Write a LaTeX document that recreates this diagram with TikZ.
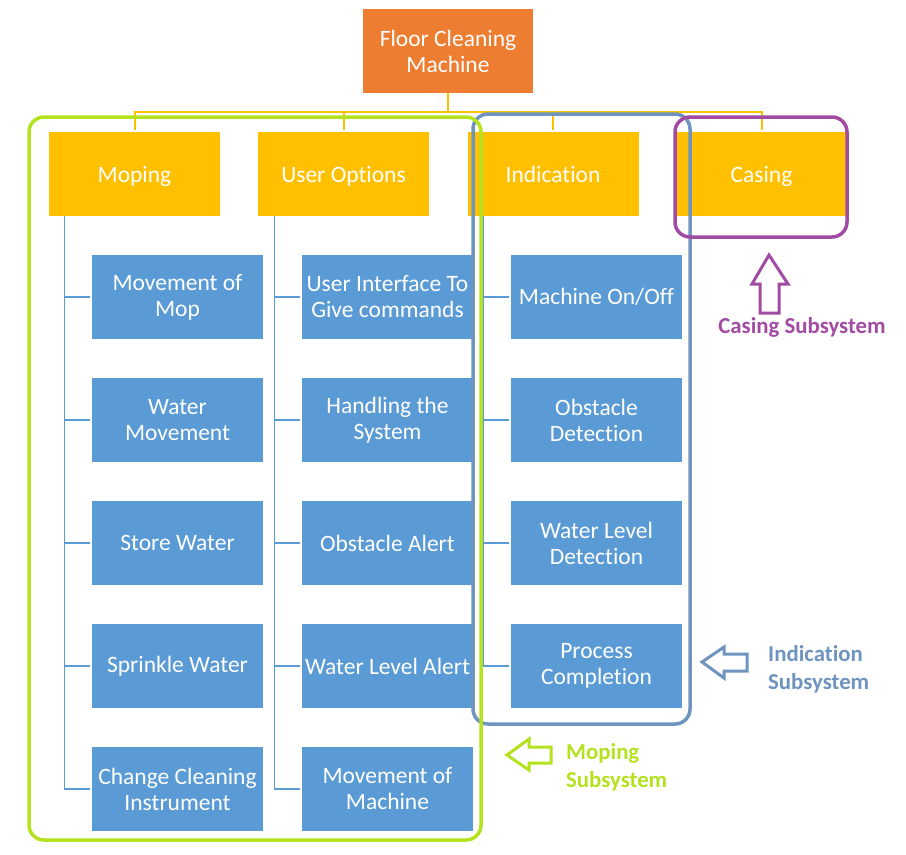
\documentclass[tikz,border=0pt]{standalone}
\usepackage{fontspec}
\setmainfont{Carlito}[Ligatures={NoCommon}]
\usepackage{tikz}

\definecolor{rootorange}{RGB}{237,125,49}
\definecolor{headyellow}{RGB}{255,192,0}
\definecolor{leafblue}{RGB}{91,155,213}
\definecolor{mopgreen}{RGB}{181,226,30}
\definecolor{indblue}{RGB}{111,148,192}
\definecolor{casepurple}{RGB}{161,75,163}

\tikzset{
  box/.style={minimum width=171pt,minimum height=84pt,inner sep=0pt,text=white,align=center,font=\fontsize{23.5}{26}\selectfont},
  rootbox/.style={box,fill=rootorange,minimum width=170pt},
  headbox/.style={box,fill=headyellow,text height=17pt,text depth=1pt},
  leafbox/.style={box,fill=leafblue},
  bus/.style={draw=headyellow,line width=2pt,shorten >=2pt},
  tree/.style={draw=leafblue,line width=1.2pt,shorten >=2pt},
  frame/.style={rounded corners=15pt,line width=3.5pt},
  blockarrow/.style={line width=3pt,fill=white,line join=miter},
  tag/.style={font=\fontsize{22.8}{28}\selectfont\bfseries,align=left,inner sep=0pt}
}

\begin{document}
\begin{tikzpicture}[x=1pt,y=1pt,yscale=-1,xscale=1]
\useasboundingbox (0,0) rectangle (906,855);

% Root Node
\node[rootbox] (root) at (448,51) {Floor Cleaning\\Machine};

% Head Nodes
\node[headbox] (moping) at (134.5,174) {Moping};
\node[headbox] (useropt) at (343.5,174) {User Options};
\node[headbox] (indication) at (553,174) {Indication};
\node[headbox] (casing) at (761.5,174) {Casing};

% Leaf Nodes: Moping
\node[leafbox] (mop1) at (177.5,297) {Movement of\\Mop};
\node[leafbox] (mop2) at (177.5,420) {Water\\Movement};
\node[leafbox] (mop3) at (177.5,543) {Store Water};
\node[leafbox] (mop4) at (177.5,666) {Sprinkle Water};
\node[leafbox] (mop5) at (177.5,789) {Change Cleaning\\Instrument};

% Leaf Nodes: User Options
\node[leafbox] (user1) at (387.5,297) {User Interface To\\Give commands};
\node[leafbox] (user2) at (387.5,420) {Handling the\\System};
\node[leafbox] (user3) at (387.5,543) {Obstacle Alert};
\node[leafbox] (user4) at (387.5,666) {Water Level Alert};
\node[leafbox] (user5) at (387.5,789) {Movement of\\Machine};

% Leaf Nodes: Indication
\node[leafbox] (ind1) at (596.5,297) {Machine On/Off};
\node[leafbox] (ind2) at (596.5,420) {Obstacle\\Detection};
\node[leafbox] (ind3) at (596.5,543) {Water Level\\Detection};
\node[leafbox] (ind4) at (596.5,666) {Process\\Completion};

%Straight Lines: root to heads
\draw[bus] (root.south) -- ++(0,19) -| (moping.north);
\draw[bus] (root.south) -- ++(0,19) -| (useropt.north);
\draw[bus] (root.south) -- ++(0,19) -| (indication.north);
\draw[bus] (root.south) -- ++(0,19) -| (casing.north);

%Straight Lines: heads to leaves
\draw[tree] ([xshift=16pt]moping.south west) |- (mop1.west);
\draw[tree] ([xshift=16pt]moping.south west) |- (mop2.west);
\draw[tree] ([xshift=16pt]moping.south west) |- (mop3.west);
\draw[tree] ([xshift=16pt]moping.south west) |- (mop4.west);
\draw[tree] ([xshift=16pt]moping.south west) |- (mop5.west);

\draw[tree] ([xshift=17pt]useropt.south west) |- (user1.west);
\draw[tree] ([xshift=17pt]useropt.south west) |- (user2.west);
\draw[tree] ([xshift=17pt]useropt.south west) |- (user3.west);
\draw[tree] ([xshift=17pt]useropt.south west) |- (user4.west);
\draw[tree] ([xshift=17pt]useropt.south west) |- (user5.west);

\draw[tree] ([xshift=16pt]indication.south west) |- (ind1.west);
\draw[tree] ([xshift=16pt]indication.south west) |- (ind2.west);
\draw[tree] ([xshift=16pt]indication.south west) |- (ind3.west);
\draw[tree] ([xshift=16pt]indication.south west) |- (ind4.west);

%Rounded Rect: subsystem frames
\draw[frame,draw=indblue] (473,114) rectangle (690,724);
\draw[frame,draw=mopgreen] (29,117) rectangle (481,840);
\draw[frame,draw=casepurple] (675,117) rectangle (847,237);

%Up Arrow
\draw[blockarrow,draw=casepurple] (769,255) -- (752,284) -- (760,284) -- (760,313) -- (779,313) -- (779,284) -- (788,284) -- cycle;
%Left Arrow
\draw[blockarrow,draw=indblue] (702,662) -- (724,647) -- (724,654) -- (747,654) -- (747,671) -- (724,671) -- (724,678) -- cycle;
%Left Arrow
\draw[blockarrow,draw=mopgreen] (507,755) -- (529,739) -- (529,747) -- (551,747) -- (551,763) -- (529,763) -- (529,770) -- cycle;

% Text Node
\node[tag,text=casepurple] (casingtag) at (802,327) {Casing Subsystem};
% Text Node
\node[tag,text=indblue,anchor=west] (indtag) at (768,669) {Indication\\Subsystem};
% Text Node
\node[tag,text=mopgreen,anchor=west] (moptag) at (566,767) {Moping\\Subsystem};

\end{tikzpicture}
\end{document}
